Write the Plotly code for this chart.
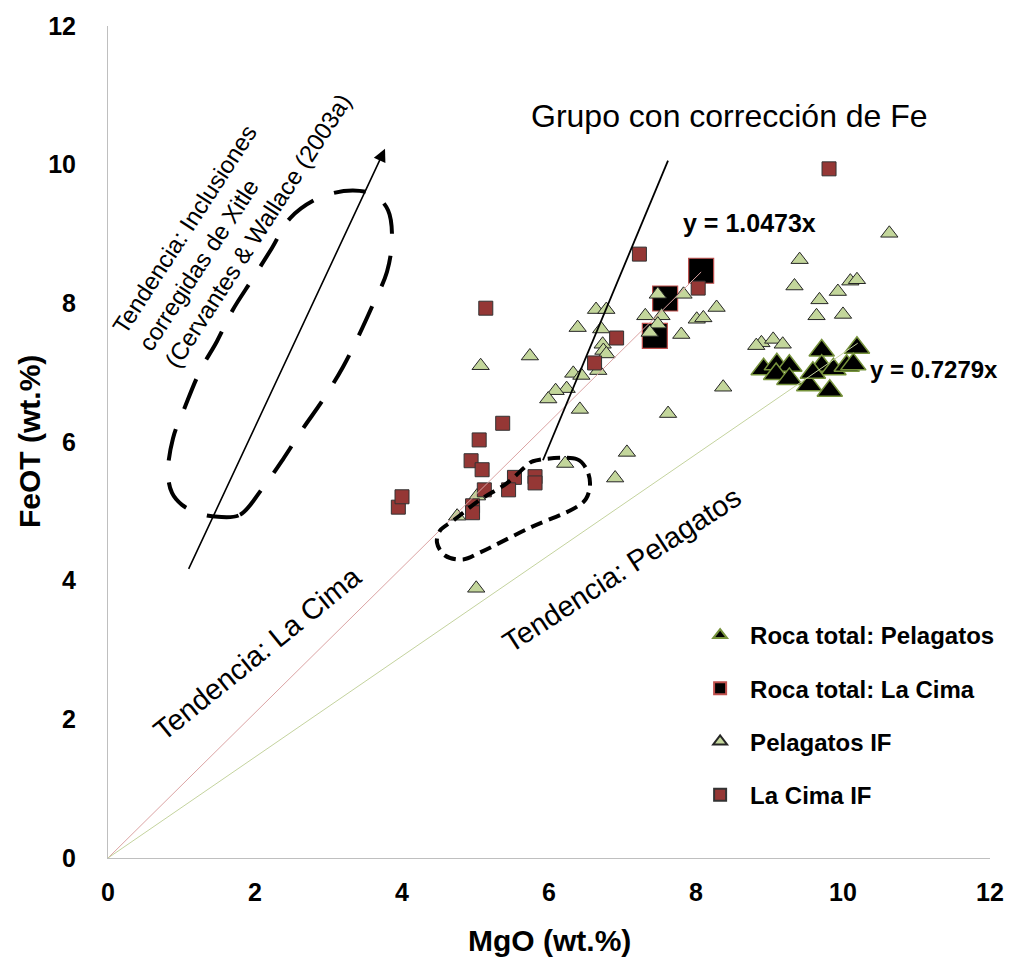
import plotly.graph_objects as go

# ---------------- data ----------------
pel_if_x = [6.64, 6.78, 6.39, 6.71, 5.74, 5.07, 6.73, 6.74, 6.78, 6.67, 6.33, 6.44, 6.24, 6.09, 5.99,
            6.42, 7.62, 7.06, 6.22, 6.90, 4.75, 5.01, 5.02, 7.31, 7.48, 7.53, 7.48, 7.37, 7.83, 7.80,
            8.01, 10.63, 9.41, 9.34, 9.68, 9.93, 10.10, 10.19, 9.64, 10.00, 8.28, 8.10, 8.37, 8.89,
            8.82, 9.05, 9.18]
pel_if_y = [7.91, 7.91, 7.65, 7.63, 7.24, 7.10, 7.41, 7.32, 7.27, 7.03, 6.99, 6.96, 6.77, 6.74, 6.62,
            6.47, 6.41, 5.85, 5.69, 5.48, 4.93, 3.89, 5.22, 7.82, 8.13, 7.82, 7.70, 7.58, 8.13, 7.55,
            7.77, 9.01, 8.63, 8.25, 8.05, 8.17, 8.32, 8.34, 7.82, 7.84, 7.94, 7.79, 6.79, 7.43,
            7.39, 7.48, 7.41]

cima_if_x = [3.95, 4.00, 5.14, 5.37, 5.05, 4.94, 5.09, 5.12, 4.96, 4.96, 5.53, 5.45, 5.81, 5.81,
             6.92, 6.62, 8.03, 9.81, 7.23]
cima_if_y = [5.06, 5.21, 7.93, 6.27, 6.03, 5.73, 5.60, 5.31, 5.08, 4.98, 5.49, 5.31, 5.50, 5.41,
             7.50, 7.14, 8.22, 9.94, 8.71]

roca_cima_x = [8.07, 7.58, 7.44]
roca_cima_y = [8.47, 8.07, 7.53]

roca_pel_x = [8.92, 9.10, 9.27, 9.09, 9.27, 9.54, 9.71, 9.71, 9.87, 9.82, 10.05, 10.19, 10.14, 9.59]
roca_pel_y = [7.05, 7.12, 7.10, 6.98, 6.91, 6.82, 7.32, 7.10, 7.05, 6.74, 7.10, 7.36, 7.12, 7.00]

# trend lines (slope, x extent)
slope_cima = 1.0473
slope_pel = 0.7279
trend_cima_xmax = 8.07
trend_pel_xmax = 10.2

# sketch annotations (in data units)
xitle_loop_x = [1.497, 1.796, 2.095, 2.381, 2.653, 2.925, 3.197, 3.401, 3.605, 3.796, 3.864, 3.810,
                3.633, 3.333, 2.884, 2.476, 2.231, 1.959, 1.701, 1.483, 1.252, 1.048, 0.884, 0.816,
                0.871, 1.007, 1.252, 1.497]
xitle_loop_y = [4.921, 4.950, 5.322, 5.751, 6.195, 6.609, 7.082, 7.511, 7.983, 8.455, 8.941, 9.342,
                9.557, 9.628, 9.528, 9.227, 8.798, 8.340, 7.911, 7.454, 7.024, 6.509, 6.052, 5.551,
                5.265, 5.093, 4.964, 4.921]
group_loop_x = [5.782, 6.381, 6.503, 6.558, 6.503, 6.354, 5.741, 5.061, 4.830, 4.585, 4.476, 4.517,
                4.694, 5.061, 5.429, 5.701, 5.782]
group_loop_y = [5.722, 5.751, 5.622, 5.408, 5.179, 5.050, 4.764, 4.406, 4.306, 4.363, 4.549, 4.721,
                4.864, 5.165, 5.408, 5.665, 5.722]
group_line_x = [5.918, 7.619]
group_line_y = [5.737, 10.057]
arrow_tail = (1.088, 4.149)
arrow_head = (3.769, 10.229)

x_ticks = [0, 2, 4, 6, 8, 10, 12]
y_ticks = [0, 2, 4, 6, 8, 10, 12]

BOLDF = "Liberation Sans, Arial, sans-serif"
ARIAL = "Liberation Sans, Arial, sans-serif"

fig = go.Figure()

fig.add_trace(go.Scatter(
    x=roca_pel_x, y=roca_pel_y, mode="markers", name="Roca total: Pelagatos",
    legendgroup="a",
    marker=dict(symbol="triangle-up", size=22, color="black",
                line=dict(color="#77933c", width=1.5))))
fig.add_trace(go.Scatter(
    x=roca_cima_x, y=roca_cima_y, mode="markers", name="Roca total: La Cima",
    legendgroup="b",
    marker=dict(symbol="square", size=25, color="black",
                line=dict(color="#c0504d", width=1.2))))
fig.add_trace(go.Scatter(
    x=pel_if_x, y=pel_if_y, mode="markers", name="Pelagatos IF",
    legendgroup="c",
    marker=dict(symbol="triangle-up", size=15, color="#c3d69b",
                line=dict(color="#262626", width=1))))
fig.add_trace(go.Scatter(
    x=cima_if_x, y=cima_if_y, mode="markers", name="La Cima IF",
    legendgroup="d",
    marker=dict(symbol="square", size=14, color="#953735",
                line=dict(color="#333333", width=1))))

# trend lines
fig.add_trace(go.Scatter(x=[0, trend_cima_xmax], y=[0, slope_cima * trend_cima_xmax],
                         mode="lines", line=dict(color="#dba3a3", width=1),
                         showlegend=False, hoverinfo="skip"))
fig.add_trace(go.Scatter(x=[0, trend_pel_xmax], y=[0, slope_pel * trend_pel_xmax],
                         mode="lines", line=dict(color="#c4d39e", width=1),
                         showlegend=False, hoverinfo="skip"))

# sketch shapes
fig.add_trace(go.Scatter(x=xitle_loop_x, y=xitle_loop_y, mode="lines",
                         line=dict(color="black", width=4, dash="32px,22px", shape="spline"),
                         showlegend=False, hoverinfo="skip"))
fig.add_trace(go.Scatter(x=group_loop_x, y=group_loop_y, mode="lines",
                         line=dict(color="black", width=4, dash="12px,7px", shape="spline"),
                         showlegend=False, hoverinfo="skip"))
fig.add_trace(go.Scatter(x=group_line_x, y=group_line_y, mode="lines",
                         line=dict(color="black", width=1.8),
                         showlegend=False, hoverinfo="skip"))

ann = []
ann.append(dict(x=arrow_head[0], y=arrow_head[1], ax=arrow_tail[0], ay=arrow_tail[1],
                xref="x", yref="y", axref="x", ayref="y", showarrow=True,
                arrowhead=2, arrowsize=1.6, arrowwidth=1.6, arrowcolor="black", text=""))
ann.append(dict(x=8.46, y=10.70, xref="x", yref="y", text="Grupo con corrección de Fe",
                showarrow=False, font=dict(family=ARIAL, size=32, color="black")))
ann.append(dict(x=8.73, y=9.16, xref="x", yref="y", text="y = 1.0473x",
                showarrow=False, font=dict(family=BOLDF, size=25, color="black", weight="bold")))
ann.append(dict(x=11.24, y=7.05, xref="x", yref="y", text="y = 0.7279x",
                showarrow=False, font=dict(family=BOLDF, size=24, color="black", weight="bold")))
ann.append(dict(x=2.04, y=2.95, xref="x", yref="y", text="Tendencia: La Cima", textangle=-39,
                showarrow=False, font=dict(family=ARIAL, size=29, color="black")))
ann.append(dict(x=6.98, y=4.16, xref="x", yref="y", text="Tendencia: Pelagatos", textangle=-33,
                showarrow=False, font=dict(family=ARIAL, size=29, color="black")))
ann.append(dict(x=1.68, y=9.30, xref="x", yref="y",
                text="Tendencia: Inclusiones<br>corregidas de Xitle<br>(Cervantes & Wallace (2003a)",
                textangle=-57, align="left",
                showarrow=False, font=dict(family=ARIAL, size=24, color="black")))
# axis titles
ann.append(dict(x=0, y=0.5, xref="paper", yref="paper", xshift=-79, xanchor="center",
                yanchor="middle", text="FeOT (wt.%)",
                textangle=-90, showarrow=False,
                font=dict(family=BOLDF, size=30, color="black", weight="bold")))
ann.append(dict(x=0.5, y=0, xref="paper", yref="paper", yshift=-82, xanchor="center",
                yanchor="middle", text="MgO (wt.%)",
                showarrow=False,
                font=dict(family=BOLDF, size=30, color="black", weight="bold")))

fig.update_layout(
    width=1031, height=960,
    margin=dict(l=108, r=41, t=19, b=102),
    paper_bgcolor="white", plot_bgcolor="white",
    annotations=ann,
    legend=dict(x=0.66, y=0.2945, xanchor="left", yanchor="top",
                font=dict(family=ARIAL, size=24, color="black", weight="bold"),
                bgcolor="rgba(0,0,0,0)", tracegroupgap=19, itemsizing="constant",
                itemwidth=50),
    xaxis=dict(range=[0, 12], tickvals=x_ticks, showgrid=False, zeroline=False,
               showline=True, linecolor="#bfbfbf", linewidth=1, ticks="",
               ticklabelstandoff=12,
               tickfont=dict(family=BOLDF, size=25, color="black", weight="bold")),
    yaxis=dict(range=[0, 12], tickvals=y_ticks, showgrid=False, zeroline=False,
               showline=True, linecolor="#bfbfbf", linewidth=1, ticks="",
               ticklabelstandoff=26,
               tickfont=dict(family=BOLDF, size=25, color="black", weight="bold")),
    showlegend=True,
)

fig.write_html("out.html")
